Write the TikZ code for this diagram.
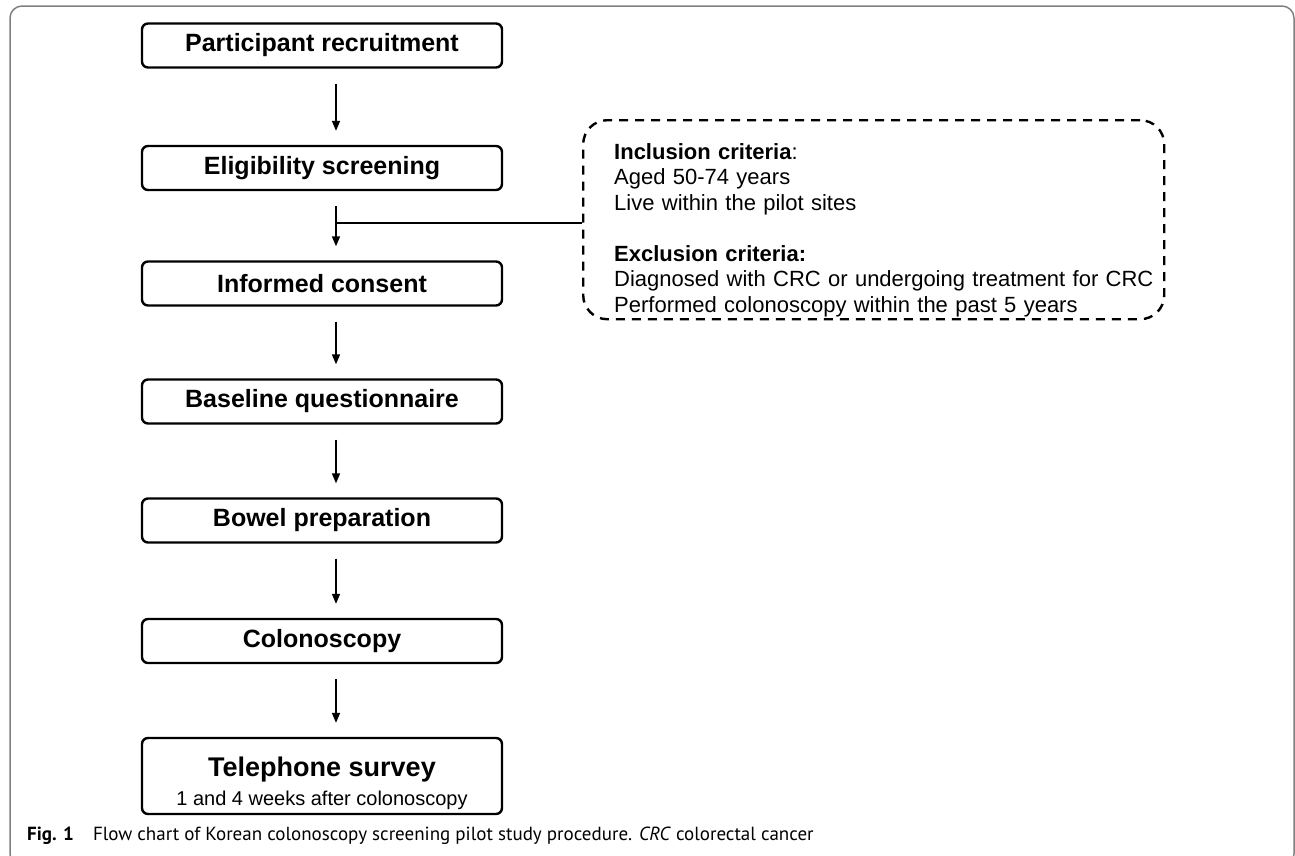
\documentclass[tikz,border=0pt]{standalone}
\usepackage{fontspec}
\setmainfont{Liberation Sans}
\newfontfamily\capfont{PT Sans}
\usetikzlibrary{arrows.meta,positioning}

\begin{document}
\begin{tikzpicture}[
  x=1pt, y=-1pt,
  every node/.style={font=\fontsize{25}{30}\selectfont\bfseries},
  stepbox/.style={draw, line width=2.4pt, rounded corners=6pt,
              minimum width=360pt, minimum height=44pt, inner sep=0pt},
  critbox/.style={draw, dashed, dash pattern=on 9pt off 7pt, line width=2.4pt,
              rounded corners=24pt, text width=565pt, inner xsep=8pt, inner ysep=0pt,
              align=left, font=\fontsize{22}{25.5}\selectfont},
  arr/.style={-{Triangle[length=10pt,width=8pt]}, line width=1.6pt,
              shorten <=15pt, shorten >=14pt}
]
\useasboundingbox (0,0) rectangle (1295,855);

% outer frame
\draw[gray, line width=1.5pt, rounded corners=12pt] (10,6) rectangle (1294,866);

\node[stepbox] (recruit) at (322,45.5) {Participant recruitment};
\node[stepbox] (elig) at (322,168) {Eligibility screening};
\node[stepbox] (consent) at (322,283.5) {Informed consent};
\node[stepbox] (baseline) at (322,401.5) {Baseline questionnaire};
\node[stepbox] (bowel) at (322,520.5) {Bowel preparation};
\node[stepbox] (colon) at (322,641) {Colonoscopy};
\node[stepbox, minimum height=76pt, text height=67pt, text depth=9pt, align=center,
      font=\fontsize{27}{31}\selectfont\bfseries] (phone) at (322,776)
  {Telephone survey\\[-2pt] {\fontsize{20}{24}\selectfont\mdseries 1 and 4 weeks after colonoscopy}};

\draw[arr] ([xshift=14pt]recruit.south) -- ([xshift=14pt]elig.north);
\draw[arr] ([xshift=14pt]elig.south) -- ([xshift=14pt]consent.north);
\draw[arr] ([xshift=14pt]consent.south) -- ([xshift=14pt]baseline.north);
\draw[arr] ([xshift=14pt]baseline.south) -- ([xshift=14pt]bowel.north);
\draw[arr] ([xshift=14pt]bowel.south) -- ([xshift=14pt]colon.north);
\draw[arr] ([xshift=14pt]colon.south) -- ([xshift=14pt]phone.north);

% criteria
\node[critbox, anchor=north west, text height=39pt, text depth=160pt] (crit) at (582,119)
  {\leftskip=23pt
   \textbf{Inclusion criteria}:\\
   Aged 50-74 years\\
   Live within the pilot sites\\[25.5pt]
   \textbf{Exclusion criteria:}\\
   Diagnosed with CRC or undergoing treatment for CRC\\
   Performed colonoscopy within the past 5 years\par};

\coordinate (split) at (336,223);
\draw[line width=1.2pt] (split) -- (split -| crit.west);

\node[anchor=base west, inner sep=0pt, font=\capfont\fontsize{19}{22}\selectfont] (caption) at (27,840)
  {\textbf{Fig. 1}\quad Flow chart of Korean colonoscopy screening pilot study procedure. \textit{CRC} colorectal cancer};

\end{tikzpicture}
\end{document}
